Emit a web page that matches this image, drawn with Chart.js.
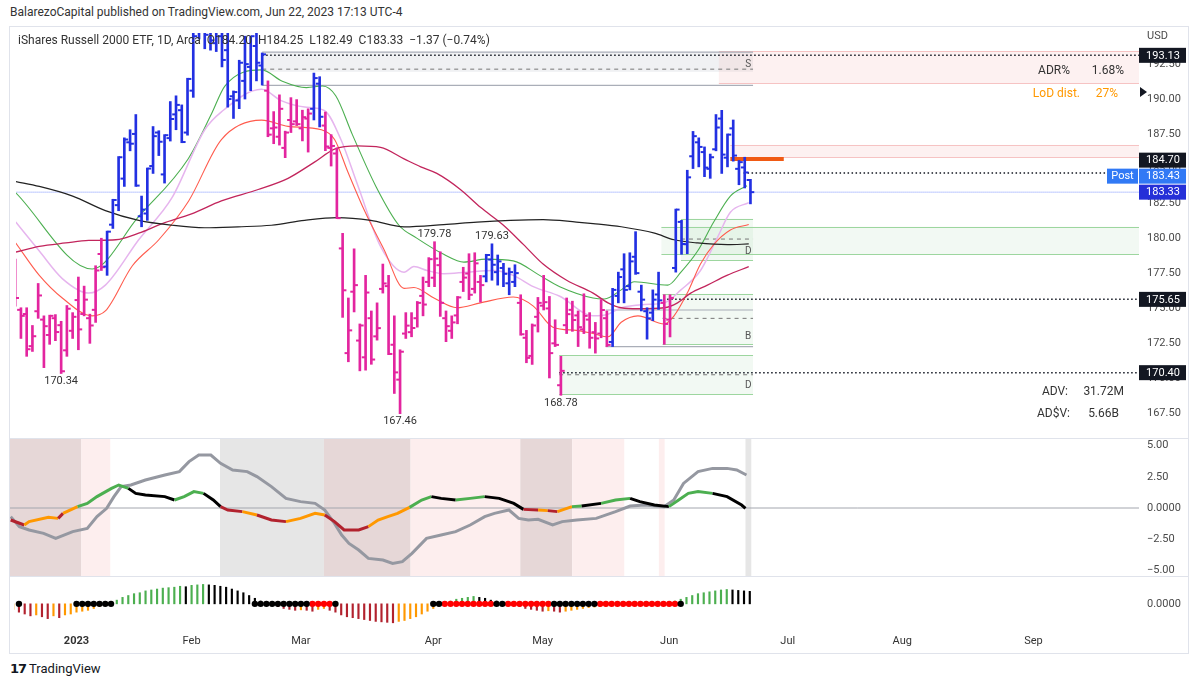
<!DOCTYPE html>
<html>
<head>
<meta charset="utf-8">
<script src="https://cdn.jsdelivr.net/npm/chart.js@4.4.0/dist/chart.umd.min.js"></script>
<style>
  body { margin: 0; width: 1200px; height: 687px; background: #fff; position: relative; overflow: hidden;
         font-family: Roboto, "Liberation Sans", sans-serif; color: #333; }
  .abs { position: absolute; white-space: nowrap; }
  canvas { position: absolute; }
  #frame { left: 9px; top: 26px; width: 1180px; height: 628px; border: 1px solid #e0e3eb; box-sizing: border-box; }
  .sep { left: 10px; width: 1178px; height: 1px; background: #e0e3eb; }
  .side { font-size: 12px; line-height: 14px; }
</style>
</head>
<body>
<div class="abs" style="left:10px;top:5px;font-size:12px;color:#333">BalarezoCapital published on TradingView.com, Jun 22, 2023 17:13 UTC-4</div>
<div id="frame" class="abs"></div>
<canvas id="mainChart" width="1178" height="411" style="left:10px;top:27px"></canvas>
<div class="abs sep" style="top:438px"></div>
<canvas id="oscChart" width="1178" height="137" style="left:10px;top:439px"></canvas>
<div class="abs sep" style="top:576px"></div>
<canvas id="histChart" width="1178" height="76" style="left:10px;top:577px"></canvas>

<div class="abs" style="left:18px;top:33px;font-size:12px;color:#333">iShares Russell 2000 ETF, 1D, Arca&nbsp; O184.20&nbsp; H184.25&nbsp; L182.49&nbsp; C183.33&nbsp; −1.37 (−0.74%)</div>
<div class="abs" style="left:1147px;top:29px;font-size:11px;color:#4a4a4a">USD</div>
<div class="abs side" style="right:130px;top:63px">ADR%</div>
<div class="abs side" style="right:76px;top:63px">1.68%</div>
<div class="abs side" style="right:120px;top:86px;color:#ff9800">LoD dist.</div>
<div class="abs side" style="right:82px;top:86px;color:#ff9800">27%</div>
<div class="abs side" style="right:132px;top:384px">ADV:</div>
<div class="abs side" style="right:76px;top:384px">31.72M</div>
<div class="abs side" style="right:130px;top:406px">AD$V:</div>
<div class="abs side" style="right:81px;top:406px">5.66B</div>
<div class="abs" style="left:10px;top:661px;font-size:13px;color:#131722"><span style="font-family:'DejaVu Sans';font-weight:900;letter-spacing:-1px">17</span> TradingView</div>

<script>
// ---- data (bar index 0 = Jan 3 2023) ----
const FIRST_BAR = -11;
const opens = [
  176.5, 174.9, 174.6, 172.3, 174.8, 174.2, 173.1, 174.3, 173.8, 172.0,
  173.4, 175.6, 174.6, 174.3, 174.9, 178.9, 178.0, 181.0, 182.4, 184.3,
  186.9, 187.5, 181.6, 181.8, 185.2, 187.6, 184.6, 187.2, 188.9, 189.2,
  187.6, 190.6, 195.8, 195.1, 195.0, 194.0, 194.5, 193.5, 190.2, 189.9,
  191.3, 192.3, 193.8, 192.4, 190.6, 187.9, 187.3, 186.5, 188.5, 188.4,
  187.9, 188.6, 189.3, 191.1, 188.1, 186.5, 186.1, 179.3, 171.8, 176.2,
  172.7, 171.5, 174.3, 173.0, 176.4, 176.6, 172.4, 169.9, 173.2, 173.3,
  174.3, 175.9, 176.9, 177.2, 178.1, 174.3, 173.4, 174.5, 176.9, 177.5,
  176.4, 176.9, 177.3, 178.5, 177.6, 177.9, 176.8, 176.9, 175.4, 172.9,
  171.6, 174.4, 175.2, 175.0, 172.5, 169.5, 173.8, 174.9, 174.5, 173.5,
  174.2, 173.3, 173.2, 174.3, 172.6, 175.9, 177.8, 176.6, 178.7, 176.2,
  174.8, 174.7, 176.0, 175.4, 174.2, 177.9, 181.2, 179.6, 185.9, 186.9,
  186.2, 185.0, 186.4, 188.6, 185.8, 187.9, 185.0, 185.1, 184.20
];
const highs = [
  178.53, 175.05, 175.05, 173.78, 176.79, 174.47, 174.52, 174.56, 174.08, 175.21,
  174.7, 177.25, 176.6, 174.59, 178.06, 180.03, 180.54, 182.82, 185.88, 187.22,
  187.8, 188.89, 183.05, 185.06, 188.03, 187.73, 187.45, 189.82, 190.23, 189.58,
  191.49, 195.3, 198.0, 197.2, 196.5, 196.0, 195.8, 195.2, 190.58, 192.78,
  194.5, 194.5, 195.2, 193.3, 191.3, 189.1, 190.3, 187.7, 190.1, 189.96,
  189.2, 189.3, 191.86, 191.6, 189.07, 187.45, 186.5, 180.38, 175.75, 179.27,
  173.89, 177.37, 174.82, 175.4, 178.18, 177.37, 174.47, 172.04, 174.7, 174.7,
  175.5, 177.25, 178.64, 179.78, 179.06, 174.82, 174.47, 175.86, 177.95, 178.92,
  178.99, 177.37, 178.88, 179.63, 178.83, 178.23, 177.9, 178.13, 175.98, 173.43,
  173.89, 175.79, 177.37, 175.86, 174.19, 171.57, 175.75, 175.52, 174.82, 176.05,
  174.7, 174.0, 175.63, 174.82, 176.44, 177.6, 178.92, 178.99, 180.5, 176.67,
  175.05, 176.33, 177.6, 175.98, 175.98, 182.12, 181.31, 184.9, 187.68, 187.22,
  186.57, 186.06, 188.89, 189.19, 187.5, 188.5, 185.6, 185.83, 184.25
];
const lows = [
  175.17, 172.85, 171.57, 171.92, 174.29, 170.76, 172.43, 172.69, 170.34, 171.57,
  172.85, 172.04, 174.47, 172.5, 174.0, 177.72, 177.37, 180.73, 182.0, 183.74,
  186.29, 183.74, 180.85, 181.31, 184.67, 185.95, 183.98, 186.99, 187.8, 186.87,
  187.41, 190.12, 194.3, 193.6, 193.5, 193.4, 192.3, 189.42, 188.61, 189.31,
  190.0, 190.6, 191.3, 191.0, 187.3, 186.8, 186.7, 185.8, 187.6, 188.1,
  187.0, 186.2, 188.5, 188.0, 186.3, 185.2, 181.43, 174.36, 171.18, 174.75,
  170.53, 170.58, 171.0, 172.73, 176.1, 171.69, 168.91, 167.46, 172.85, 172.97,
  173.66, 174.47, 176.56, 176.56, 174.43, 172.62, 172.85, 173.9, 176.21, 175.63,
  176.1, 175.45, 176.9, 177.02, 176.67, 176.56, 175.98, 176.56, 173.08, 171.11,
  170.99, 173.31, 174.89, 170.02, 172.27, 168.78, 173.2, 173.36, 172.27, 173.2,
  172.15, 171.8, 172.9, 172.27, 172.27, 175.4, 175.4, 176.33, 177.44, 174.82,
  172.8, 174.12, 174.93, 172.43, 172.96, 177.6, 178.88, 178.92, 185.02, 185.14,
  184.44, 184.32, 186.29, 184.67, 185.14, 185.55, 183.86, 183.63, 182.49
];
const closes = [
  175.75, 174.47, 172.08, 173.01, 175.93, 173.73, 174.47, 173.31, 170.5, 174.98,
  174.4, 173.5, 175.63, 173.78, 177.72, 177.95, 180.5, 182.77, 185.83, 187.1,
  186.8, 183.8, 182.08, 185.02, 187.34, 186.94, 187.41, 188.57, 189.58, 186.92,
  191.44, 194.5, 196.4, 194.6, 194.2, 195.0, 192.8, 190.0, 190.5, 192.6,
  192.5, 194.5, 192.6, 193.2, 187.45, 187.96, 189.3, 187.6, 188.2, 188.2,
  188.7, 188.96, 191.5, 188.73, 186.6, 186.64, 181.47, 176.3, 173.43, 176.67,
  173.78, 176.14, 171.34, 173.59, 176.79, 171.74, 170.42, 171.9, 173.77, 173.6,
  175.4, 175.28, 178.53, 178.57, 175.4, 173.73, 174.0, 175.79, 177.21, 175.98,
  178.23, 176.67, 178.83, 178.13, 178.37, 177.48, 177.6, 177.53, 173.15, 171.46,
  173.78, 175.4, 175.45, 171.8, 172.39, 170.53, 174.59, 174.17, 173.66, 174.47,
  172.9, 172.85, 174.89, 172.39, 176.33, 177.25, 176.33, 178.37, 177.53, 175.63,
  174.29, 175.63, 175.58, 173.89, 175.75, 182.08, 179.62, 184.39, 187.34, 186.57,
  185.09, 185.83, 187.96, 186.02, 187.45, 185.95, 185.48, 184.74, 183.33
];
// runs of bars painted blue (the rest are magenta)
const blueRuns = [[5, 32], [41, 42], [71, 76], [93, 101], [104, 117]];

// moving averages, [bar index, price]
const maFast = [[-10.9,183.28],[2.4,177.83],[10.4,181.54],[19.1,185.71],[23.2,188.96],[25.5,190.93],[31.9,192.09],[35.5,191.28],[39.7,190.82],[42.5,190.93],[44.8,190.23],[47.7,187.45],[51.8,183.74],[55.8,180.96],[58.9,180.04],[63.6,178.88],[67.1,178.32],[71.0,178.53],[75.7,178.41],[80.3,177.37],[83.8,176.56],[89.6,175.75],[91.6,175.68],[94.5,176.33],[96.8,176.91],[102.6,176.67],[104.9,177.6],[107.8,179.11],[110.6,181.19],[113.5,183.05],[116.4,183.79]];
const maMid = [[-10.9,181.19],[-6.8,179.11],[-2.8,177.14],[1.8,176.1],[4.7,176.67],[10.5,179.92],[16.3,182.93],[22.0,187.8],[24.9,189.08],[31.9,190.7],[35.3,189.89],[39.4,189.43],[42.8,189.19],[45.7,187.1],[48.6,183.86],[52.6,179.45],[56.7,177.6],[58.4,178.0],[60.7,177.72],[63.6,177.49],[67.6,177.6],[72.3,177.72],[75.7,177.37],[79.2,176.56],[83.8,175.87],[89.6,174.48],[92.2,174.59],[94.5,175.05],[98.5,175.28],[102.0,175.4],[104.9,176.33],[108.3,177.72],[111.2,180.04],[113.5,181.89],[116.7,182.58]];
const maSlow = [[-10.9,179.69],[-6.8,177.37],[-2.8,175.75],[2.4,174.47],[4.7,174.82],[9.4,178.06],[14.0,179.92],[19.2,182.7],[24.9,187.1],[31.9,188.49],[36.5,188.04],[42.3,187.8],[44.6,187.1],[46.9,184.79],[49.8,182.01],[53.2,179.22],[56.7,176.44],[58.4,176.5],[61.9,175.75],[65.9,175.05],[70.0,175.4],[75.7,175.82],[79.2,175.17],[82.6,173.66],[86.7,173.43],[89.6,173.2],[92.2,172.97],[94.5,174.01],[97.4,174.47],[102.0,173.89],[103.7,174.47],[106.0,176.1],[108.3,178.18],[110.6,179.57],[113.5,180.62],[116.7,181.01]];
const maLong = [[-10.9,179.04],[-6.8,179.45],[-2.2,179.69],[1.8,179.87],[6.5,179.92],[10.5,180.39],[14.6,181.08],[19.7,181.78],[24.9,182.7],[31.3,183.52],[36.5,184.32],[41.1,185.48],[44.6,186.41],[48.6,186.64],[52.6,186.53],[56.7,185.71],[59.6,185.14],[62.4,184.67],[66.5,183.52],[70.0,182.24],[74.0,180.96],[77.5,179.57],[80.9,178.18],[85.0,177.02],[89.6,176.1],[92.2,175.4],[94.5,175.05],[97.4,174.98],[102.0,175.05],[104.3,175.4],[106.6,176.1],[109.5,176.67],[112.9,177.37],[116.7,177.99]];
const ma200 = [[-10.9,184.09],[-6.8,183.74],[-1.0,183.05],[4.7,182.01],[10.5,181.31],[16.3,180.96],[22.0,180.78],[27.8,180.85],[33.6,180.96],[39.4,181.31],[45.1,181.5],[50.9,181.31],[56.7,180.85],[63.6,181.01],[69.4,181.19],[75.2,181.31],[80.9,181.36],[86.7,181.19],[89.6,181.08],[94.5,180.85],[100.3,180.39],[103.7,179.92],[107.8,179.69],[113.0,179.57],[116.7,179.62]];

// levels and zones: [from bar, to bar, price] / [from bar, to bar, low, high]
const dottedLevels = [[32, 190, 193.13], [115.8, 190, 184.70], [102.5, 190, 175.65], [83.7, 190, 170.40]];
const lastPriceLevel = [[-12, 190, 183.33]];
const dashedLevels = [[32, 117.45, 192.14], [104.9, 117.45, 179.97], [101.7, 117.45, 174.29], [83.7, 117.45, 170.25]];
const grayLevels = [[32, 117.45, 193.36], [32, 117.45, 190.98], [91.8, 117.45, 174.89], [91.8, 117.45, 172.27]];
const orangeLevels = [[113.5, 122.8, 185.71]];
const grayZones = [[32, 117.45, 191.95, 193.36]];
const pinkZones = [[111.5, 190, 191.12, 193.43], [113.5, 190, 185.83, 186.71]];
const greenZones = [[104.9, 117.45, 178.46, 181.43], [101.5, 190, 178.88, 180.85], [101.7, 117.45, 172.43, 176.05], [83.7, 117.45, 168.86, 171.64]];
const zoneTags = [[116.6, 192.44, 'S'], [116.6, 179.09, 'D'], [116.6, 172.97, 'B'], [116.6, 169.49, 'D']];
const swingLabels = [[-3, 170.34, 'low'], [56, 167.46, 'low'], [84, 168.78, 'low'], [62, 179.78, 'high'], [72, 179.63, 'high']];
const priceTicks = [167.5, 170, 172.5, 175, 177.5, 180, 182.5, 185, 187.5, 190, 192.5];
const priceTags = [193.13, 184.70, 183.43, 183.33, 175.65, 170.40];

// oscillator pane
const oscFast = [[-10.74,-0.96],[-8.39,-1.36],[-7.55,-1.09],[-4.2,-0.75],[-2.52,-0.83],[-1.68,-0.43],[0.84,0.11],[2.52,0.37],[4.2,0.91],[6.72,1.57],[7.97,1.84],[9.65,1.57],[10.91,1.17],[12.59,1.04],[15.95,0.91],[17.63,0.64],[19.3,0.91],[20.98,1.31],[22.66,1.17],[24.34,0.64],[25.6,0.11],[26.86,-0.16],[29.38,-0.29],[31.9,-0.56],[34.41,-0.96],[36.93,-1.09],[39.45,-0.83],[41.97,-0.43],[43.65,-0.56],[45.33,-1.09],[47.0,-1.76],[49.52,-1.76],[51.2,-1.49],[52.88,-0.96],[54.56,-0.69],[56.24,-0.43],[58.33,0.05],[60.43,0.64],[62.11,0.91],[63.79,0.77],[66.31,0.64],[68.83,0.77],[71.34,0.91],[73.86,0.77],[76.38,0.37],[78.06,-0.11],[80.58,-0.16],[82.26,-0.21],[83.93,-0.29],[86.45,0.11],[88.13,0.16],[91.49,0.37],[94.0,0.64],[96.52,0.77],[98.2,0.51],[100.72,0.24],[103.24,0.11],[104.92,0.64],[106.6,1.17],[108.28,1.31],[110.8,1.17],[113.32,0.91],[115.83,0.24],[116.5,-0.03]];
const oscFastState = ['r','o','o','o','r','o','g','g','g','g','g','k','k','k','k','g','g','g','k','k','r','r','o','r','r','o','o','o','r','r','r','r','o','o','o','o','g','g','k','k','g','g','k','k','k','r','o','r','o','g','k','g','g','k','k','k','g','g','g','g','k','k','k','r'];
const oscSlow = [[-10.74,-0.69],[-9.23,-1.49],[-7.55,-1.76],[-5.04,-2.03],[-2.94,-2.43],[0.0,-1.89],[2.52,-1.63],[4.2,-0.69],[5.88,-0.03],[7.14,0.91],[8.39,1.71],[10.07,1.84],[12.59,2.24],[15.95,2.64],[18.47,2.91],[20.14,3.71],[21.82,4.24],[23.92,4.24],[25.6,3.57],[27.7,3.04],[30.22,2.91],[31.9,2.51],[34.41,1.71],[36.93,0.77],[39.45,0.51],[41.97,0.37],[43.65,-0.16],[45.33,-1.23],[46.58,-2.16],[47.84,-2.83],[49.52,-3.36],[51.2,-4.03],[53.72,-4.16],[55.4,-4.43],[57.08,-4.29],[58.75,-3.63],[61.27,-2.43],[63.79,-2.16],[66.31,-1.89],[68.83,-1.36],[71.34,-0.69],[73.02,-0.43],[75.54,-0.16],[77.22,-0.83],[78.9,-0.96],[80.58,-0.91],[83.1,-1.36],[84.77,-1.09],[87.29,-0.96],[90.65,-0.83],[94.0,-0.29],[96.52,0.16],[99.04,0.24],[102.4,0.11],[104.08,0.64],[105.76,1.97],[108.28,2.91],[110.8,3.17],[113.32,3.17],[114.99,3.04],[116.67,2.64]];
// background regime bands: [from bar, to bar, kind]
const regimeBands = [[-11.5, 1.5, 'bear'], [1.5, 6.5, 'weak'], [25.5, 43.5, 'flat'], [43.5, 58.5, 'bear'], [58.5, 77.5, 'weak'], [77.5, 86.5, 'bear'], [86.5, 95.5, 'weak'], [101.5, 102.5, 'weak'], [116.5, 117.5, 'flat']];
const oscTicks = [5, 2.5, 0, -2.5, -5];

// momentum histogram pane
const histVals = [
  -6, -9, -11, -13, -12, -14, -16, -13, -15, -12,
  -11, -9, -8, -7, -5, -3, -1.5, 1, 4, 7,
  9, 11, 12, 14, 15, 16, 17, 17.5, 18, 19,
  18.5, 20, 20.5, 21, 20.5, 20, 19, 18, 16, 14,
  12, 9, 6, 3, 1, -1, -3, -5, -6, -7,
  -6.5, -7, -8, -6, -5, -7, -9, -12, -14, -15,
  -16, -17, -18, -19, -19.5, -20, -20.5, -19, -18, -16,
  -14, -11, -8, -5, -2, 1, 3, 5, 6, 7,
  8, 7, 6, 4, 3, 2, 1, -1, -3, -5,
  -6, -7, -8, -7.5, -8, -9, -8, -7, -6, -5,
  -4, -3.5, -3, -2.5, -2, -1.5, -1, -0.5, 0.5, 1,
  1.5, 1, 0.5, 0.3, 1, 3, 5, 7, 9, 11,
  12, 13, 14, 15, 15.5, 15, 14.5, 14, 13.5
];
const blackDots = [-10, 0, 1, 2, 3, 4, 5, 6, 31, 32, 33, 34, 35, 36, 37, 38, 39, 40, 45, 62, 63, 73, 74, 83, 84, 85, 86, 87, 88, 89, 90, 105];
const redDots = [41, 42, 43, 44, 64, 65, 66, 67, 68, 69, 70, 71, 72, 75, 76, 77, 78, 79, 80, 81, 82, 91, 92, 93, 94, 95, 96, 97, 98, 99, 100, 101, 102, 103, 104];

const monthTicks = [0, 20, 39, 62, 81, 103, 123.6, 143.5, 166.3];
const monthNames = ['2023', 'Feb', 'Mar', 'Apr', 'May', 'Jun', 'Jul', 'Aug', 'Sep'];

// ---- drawing ----
const FONT = 'Roboto, "Liberation Sans", sans-serif';
const X_MIN = -10.86, X_MAX = 184.64;
const BLUE = '#2230e2', PINK = '#e3259f';
Chart.defaults.font.family = FONT;
Chart.defaults.animation = false;
Chart.defaults.events = [];
Chart.defaults.plugins.legend.display = false;
Chart.defaults.plugins.tooltip.enabled = false;

const idx = closes.map((_, k) => FIRST_BAR + k);
const isBlue = i => blueRuns.some(([a, b]) => i >= a && i <= b);
const barColors = idx.map(i => isBlue(i) ? BLUE : PINK);

function xAxis(show) {
  const ax = {
    type: 'linear', min: X_MIN, max: X_MAX, offset: false, bounds: 'data', display: show,
    grid: { display: false, drawTicks: false }, border: { display: false }
  };
  if (show) {
    ax.afterBuildTicks = s => { s.ticks = monthTicks.map(v => ({ value: v })); };
    ax.afterFit = s => { s.height = 23; s.paddingLeft = 0; s.paddingRight = 0; };
    ax.ticks = {
      autoSkip: false, maxRotation: 0, padding: 5, color: '#333',
      font: c => ({ family: FONT, size: 11, weight: c.index === 0 ? 'bold' : 'normal' }),
      callback: (v, k) => monthNames[k]
    };
  }
  return ax;
}
function yAxis(min, max, ticks, fmt) {
  return {
    position: 'right', min, max,
    grid: { display: false, drawTicks: false }, border: { display: false },
    afterBuildTicks: s => { s.ticks = ticks.map(v => ({ value: v })); },
    afterFit: s => { s.width = 49; s.paddingTop = 0; s.paddingBottom = 0; },
    ticks: { padding: 8, color: '#4a4a4a', font: { size: 11 }, callback: fmt }
  };
}
const lineSet = (pts, color, width, order) => ({
  type: 'line', data: pts.map(([x, y]) => ({ x, y })), borderColor: color, borderWidth: width,
  pointRadius: 0, cubicInterpolationMode: 'monotone', order
});
const levelSets = (list, color, width, dash) => list.map(([a, b, p]) => ({
  type: 'line', data: [{ x: a, y: p }, { x: b, y: p }], borderColor: color, borderWidth: width,
  borderDash: dash, pointRadius: 0, order: 6
}));

// zones behind everything in the price pane
const zonePlugin = {
  id: 'zones',
  beforeDatasetsDraw(chart) {
    const { ctx, chartArea: a, scales: { x, y } } = chart;
    ctx.save();
    ctx.beginPath(); ctx.rect(a.left, a.top, a.width, a.height); ctx.clip();
    const box = (z, fill, edge) => {
      const x0 = x.getPixelForValue(z[0]), x1 = x.getPixelForValue(z[1]);
      const yt = y.getPixelForValue(z[3]), yb = y.getPixelForValue(z[2]);
      ctx.fillStyle = fill; ctx.fillRect(x0, yt, x1 - x0, yb - yt);
      if (edge) {
        ctx.strokeStyle = edge; ctx.lineWidth = 1; ctx.beginPath();
        [yt, yb].forEach(v => { ctx.moveTo(x0, Math.round(v) + 0.5); ctx.lineTo(x1, Math.round(v) + 0.5); });
        ctx.stroke();
      }
    };
    grayZones.forEach(z => box(z, '#f0f1f3'));
    pinkZones.forEach(z => box(z, 'rgba(247,190,190,0.22)', '#f6c3c3'));
    greenZones.forEach(z => box(z, 'rgba(76,175,80,0.07)', '#9dd69f'));
    ctx.restore();
  },
  afterDatasetsDraw(chart) {
    const { ctx, scales: { x, y } } = chart;
    ctx.save();
    ctx.font = '11px ' + FONT; ctx.fillStyle = '#333'; ctx.textAlign = 'center';
    swingLabels.forEach(([i, p, side]) => {
      ctx.textBaseline = side === 'low' ? 'top' : 'bottom';
      ctx.fillText(p.toFixed(2), x.getPixelForValue(i), y.getPixelForValue(p) + (side === 'low' ? 2 : -2));
    });
    ctx.font = '10px ' + FONT; ctx.fillStyle = '#555'; ctx.textBaseline = 'middle';
    zoneTags.forEach(([i, p, t]) => ctx.fillText(t, x.getPixelForValue(i), y.getPixelForValue(p)));
    ctx.restore();
  },
  afterDraw(chart) {
    const { ctx, chartArea: a, scales: { y } } = chart;
    const bgs = ['#131722', '#131722', '#3179f5', '#2530d8', '#131722', '#131722'];
    const H = 16;
    const order = priceTags.map((p, k) => ({ p, k, py: y.getPixelForValue(p) })).sort((m, n) => n.py - m.py);
    let prev = Infinity;
    order.forEach(t => { if (t.py > prev - H) t.py = prev - H; prev = t.py; });
    ctx.save();
    ctx.font = '11px ' + FONT; ctx.textAlign = 'center'; ctx.textBaseline = 'middle';
    order.forEach(t => {
      ctx.fillStyle = bgs[t.k];
      ctx.fillRect(a.right, t.py - 7.5, 47, 15);
      ctx.fillStyle = '#fff';
      ctx.fillText(priceTags[t.k].toFixed(2), a.right + 24, t.py + 0.5);
      if (t.k === 2) {
        ctx.fillStyle = bgs[2]; ctx.fillRect(a.right - 32, t.py - 7.5, 31, 15);
        ctx.fillStyle = '#fff'; ctx.fillText('Post', a.right - 16.5, t.py + 0.5);
      }
    });
    // small marker arrow on the axis
    const ay = y.getPixelForValue(190.5);
    ctx.fillStyle = '#131722'; ctx.beginPath();
    ctx.moveTo(a.right + 1, ay - 5); ctx.lineTo(a.right + 8, ay); ctx.lineTo(a.right + 1, ay + 5); ctx.fill();
    ctx.restore();
  }
};

new Chart(document.getElementById('mainChart'), {
  type: 'line',
  data: {
    datasets: [
      { type: 'bar', data: idx.map((i, k) => ({ x: i, y: [lows[k], highs[k]] })), backgroundColor: barColors, barThickness: 2, order: 1 },
      { type: 'line', showLine: false, data: idx.map((i, k) => ({ x: i - 0.35, y: opens[k] })), pointStyle: 'line', pointRadius: 1.8, pointBorderWidth: 2, pointBorderColor: barColors, order: 0 },
      { type: 'line', showLine: false, data: idx.map((i, k) => ({ x: i + 0.35, y: closes[k] })), pointStyle: 'line', pointRadius: 1.8, pointBorderWidth: 2, pointBorderColor: barColors, order: 0 },
      lineSet(ma200, '#222222', 1.2, 5),
      lineSet(maLong, '#c2255c', 1.3, 5),
      lineSet(maSlow, '#ff5b4d', 1.1, 5),
      lineSet(maMid, '#e6b5ee', 1.5, 5),
      lineSet(maFast, '#4caf50', 1.1, 5),
      ...levelSets(lastPriceLevel, '#7b93ff', 1, [1, 1]),
      ...levelSets(dottedLevels, '#131722', 1.5, [1.5, 2.5]),
      ...levelSets(dashedLevels, '#777', 1, [4, 4]),
      ...levelSets(grayLevels, '#aaaeb8', 1.2, []),
      ...levelSets(orangeLevels, '#f05a14', 4, [])
    ]
  },
  options: {
    responsive: false, devicePixelRatio: 1,
    layout: { padding: 0 },
    scales: {
      x: xAxis(false),
      y: yAxis(166.15, 194.73, priceTicks, v => v.toFixed(2))
    }
  },
  plugins: [zonePlugin]
});

// oscillator pane
const bandFill = { bear: '#e6d7d7', weak: '#fdeeee', flat: '#e6e6e6' };
const oscColors = { r: '#b2222e', o: '#ff9800', g: '#4caf50', k: '#000000' };
const bandPlugin = {
  id: 'bands',
  beforeDatasetsDraw(chart) {
    const { ctx, chartArea: a, scales: { x } } = chart;
    ctx.save();
    ctx.beginPath(); ctx.rect(a.left, a.top, a.width, a.height); ctx.clip();
    regimeBands.forEach(([s, e, kind]) => {
      const x0 = x.getPixelForValue(s), x1 = x.getPixelForValue(e);
      ctx.fillStyle = bandFill[kind];
      ctx.fillRect(x0, a.top, x1 - x0, a.height);
    });
    ctx.restore();
  }
};
new Chart(document.getElementById('oscChart'), {
  type: 'line',
  data: {
    datasets: [
      { data: [{ x: -12, y: 0 }, { x: 190, y: 0 }], borderColor: '#a3a6ae', borderWidth: 1, pointRadius: 0, order: 3 },
      { data: oscSlow.map(([x, y]) => ({ x, y })), borderColor: '#9598a1', borderWidth: 3, pointRadius: 0, order: 2 },
      { data: oscFast.map(([x, y]) => ({ x, y })), borderWidth: 3, pointRadius: 0, order: 1,
        segment: { borderColor: c => oscColors[oscFastState[c.p0DataIndex]] } }
    ]
  },
  options: {
    responsive: false, devicePixelRatio: 1, layout: { padding: 0 },
    scales: {
      x: xAxis(false),
      y: yAxis(-5.44, 5.52, oscTicks, v => v === 0 ? '0.0000' : (v < 0 ? '−' : '') + Math.abs(v).toFixed(2))
    }
  },
  plugins: [bandPlugin]
});

// momentum histogram + squeeze dots + time axis
const histColors = histVals.map((v, k) => {
  const prev = k ? histVals[k - 1] : v;
  if (v >= 0) return v >= prev ? '#4caf50' : '#000000';
  return v < prev ? '#b2222e' : '#ff9800';
});
new Chart(document.getElementById('histChart'), {
  type: 'line',
  data: {
    datasets: [
      { type: 'bar', data: idx.map((i, k) => ({ x: i, y: [0, histVals[k]] })), backgroundColor: histColors, barThickness: 1.5, order: 2 },
      { showLine: false, data: blackDots.map(i => ({ x: i, y: 0 })), pointRadius: 3.2, pointBackgroundColor: '#000', pointBorderWidth: 0, order: 1 },
      { showLine: false, data: redDots.map(i => ({ x: i, y: 0 })), pointRadius: 3.2, pointBackgroundColor: '#ff0000', pointBorderWidth: 0, order: 1 }
    ]
  },
  options: {
    responsive: false, devicePixelRatio: 1, layout: { padding: 0 },
    scales: {
      x: xAxis(true),
      y: yAxis(-28.3, 24.7, [0], () => '0.0000')
    }
  }
});
</script>
</body>
</html>
